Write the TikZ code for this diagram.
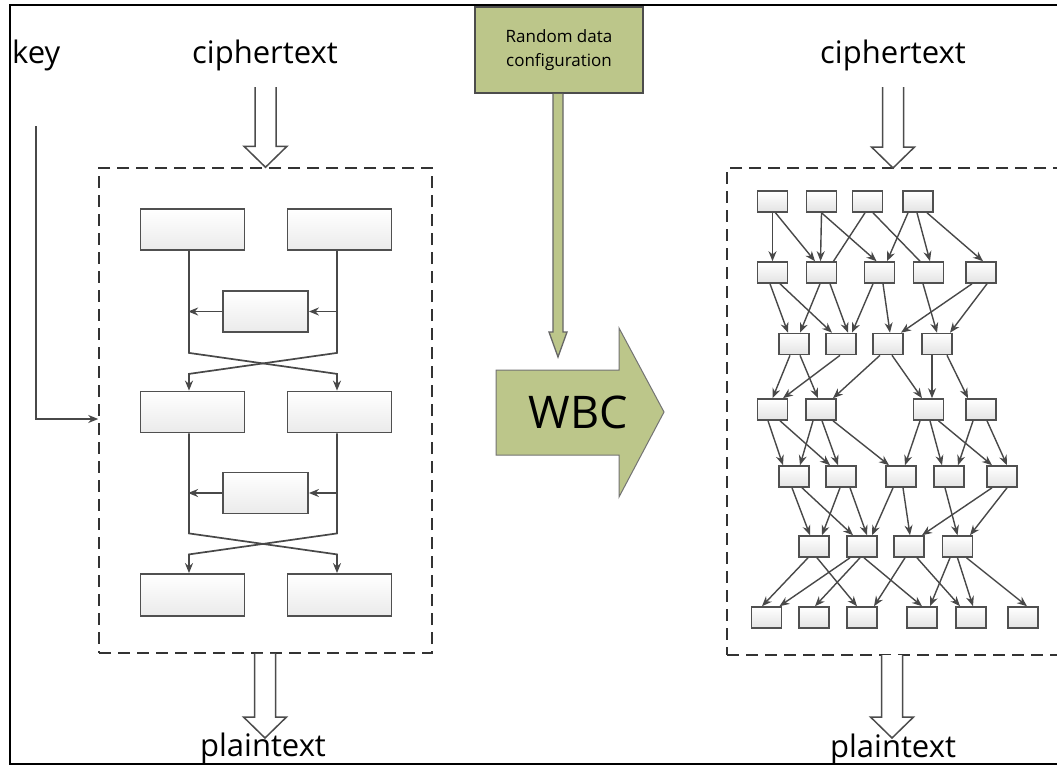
\documentclass[tikz,border=0pt]{standalone}
\usepackage{fontspec}
\setmainfont{Open Sans}
\usetikzlibrary{arrows.meta,calc}
\definecolor{wbcgreen}{RGB}{188,198,138}
\definecolor{linegray}{RGB}{72,72,72}
\definecolor{boxedge}{RGB}{80,80,80}
\newcommand\nedge[4]{\draw[netarr] ([xshift=#2pt]#1.south) -- ([xshift=#4pt]#3.north);}
\newcommand\nline[4]{\draw[netline] ([xshift=#2pt]#1.south) -- ([xshift=#4pt]#3.north);}
\newcommand\hollowarrow[2]{\draw[hollowar] let \p1=(#1), \p2=(#2) in
  (\x2-10.5pt,\y1) -- (\x2-10.5pt,\y2+21pt) -- (\x2-21.5pt,\y2+21pt) -- (\x2,\y2)
  -- (\x2+21.5pt,\y2+21pt) -- (\x2+10.5pt,\y2+21pt) -- (\x2+10.5pt,\y1);}
\begin{document}
\begin{tikzpicture}[x=1pt,y=-1pt,
  netbox/.style={draw=boxedge,line width=1.6pt,top color=white,bottom color=gray!22,minimum width=30pt,minimum height=21pt,inner sep=0pt},
  blockbox/.style={draw=boxedge,line width=1.8pt,top color=white,bottom color=gray!16,minimum width=104pt,minimum height=41pt,inner sep=0pt},
  netarr/.style={draw=linegray,line width=1.4pt,-{Stealth[length=10pt,width=8pt]}},
  netline/.style={draw=linegray,line width=1.4pt},
  flow/.style={draw=linegray,line width=1.7pt},
  flowarr/.style={flow,-{Stealth[length=10pt,width=8pt]}},
  dashbox/.style={draw=black!80,line width=1.5pt,dash pattern=on 12pt off 7pt},
  hollowar/.style={draw=gray!60!black,line width=1.5pt,fill=white,line join=miter},
  txt/.style={font=\fontsize{31}{37}\selectfont,inner sep=0pt}
]
\useasboundingbox (0,0) rectangle (1057,769);
\clip (0,0) rectangle (1057,769);
\fill[white] (0,0) rectangle (1057,769);
% frame
\draw[line width=2pt] (1060,5) -- (10,5) -- (10,764) -- (1060,764);

% texts
\node[txt,anchor=base west] (key) at (12,63) {key};
\node[txt,anchor=base] (ctL) at (265,63) {ciphertext};
\node[txt,anchor=base] (ctR) at (893,63) {ciphertext};
\node[txt,anchor=base] (ptL) at (263,756) {plaintext};
\node[txt,anchor=base] (ptR) at (893,757) {plaintext};

% dashed boxes
\node[dashbox,minimum width=333pt,minimum height=485pt,inner sep=0pt] (L) at (265.5,410.5) {};
\node[dashbox,minimum width=353pt,minimum height=487pt,inner sep=0pt] (R) at (903.5,411.5) {};

% hollow arrows
\coordinate (cLtop) at (265,87);
\coordinate (cRtop) at (893,87);
\coordinate (cRtip) at (893,168);
\coordinate (pLtip) at (265,738);
\coordinate (pRtop) at (892,655);
\coordinate (pRtip) at (892,738);
\hollowarrow{cLtop}{L.north}
\hollowarrow{L.south}{pLtip}
\hollowarrow{cRtop}{cRtip}
\hollowarrow{pRtop}{pRtip}

% key
\coordinate (keytop) at (36,126);
\draw[flowarr,line width=1.5pt] (keytop) |- ([yshift=-8.5pt]L.west);

% green config box
\node[draw=black!70,line width=1.6pt,fill=wbcgreen,minimum width=168pt,minimum height=86pt,align=center,inner sep=0pt,font=\fontsize{17}{24}\selectfont] (GB) at (559,50) {Random data\\configuration};
\coordinate (gtip) at (558,357);
\draw[draw=black!60,line width=1.3pt,fill=wbcgreen,line join=miter] let \p1=(GB.south), \p2=(gtip) in
  (\x2-5pt,\y1) -- (\x2-5pt,\y2+25pt) -- (\x2-9pt,\y2+25pt) -- (\x2,\y2) -- (\x2+9pt,\y2+25pt) -- (\x2+5pt,\y2+25pt) -- (\x2+5pt,\y1);

% WBC arrow
\draw[draw=black!55,line width=1pt,fill=wbcgreen,line join=miter] (496,370) -- (619,370) -- (619,328) -- (664,412) -- (619,497) -- (619,455) -- (496,455) -- cycle;
\node[font=\fontsize{45}{54}\selectfont,inner sep=0pt] (wbc) at (578,412) {WBC};

% left blocks
\node[blockbox] (TL) at (192.5,229.5) {};
\node[blockbox] (TR) at (339.5,229.5) {};
\node[blockbox,minimum width=85pt] (S1) at (265.5,311.5) {};
\node[blockbox] (ML) at (192.5,412) {};
\node[blockbox] (MR) at (339.5,412) {};
\node[blockbox,minimum width=85pt] (S2) at (265.5,493) {};
\node[blockbox,minimum height=42pt] (BL) at (192.5,595) {};
\node[blockbox,minimum height=42pt] (BR) at (339.5,595) {};

\draw[flowarr] ([xshift=-3.5pt]TL.south) -- ++(0,102) -- ++(148,21) -- ([xshift=-2.5pt]MR.north);
\draw[flowarr] ([xshift=-2.5pt]TR.south) -- ++(0,102) -- ++(-148,21) -- ([xshift=-3.5pt]ML.north);
\draw[flowarr] ([xshift=-3.5pt]ML.south) -- ++(0,100) -- ++(148,21) -- ([xshift=-2.5pt]BR.north);
\draw[flowarr] ([xshift=-2.5pt]MR.south) -- ++(0,100) -- ++(-148,21) -- ([xshift=-3.5pt]BL.north);
\draw[flowarr] (S1.west) -- ++(-34,0);
\draw[flowarr] ([xshift=29pt]S1.east) -- (S1.east);
\draw[flowarr] (S2.west) -- ++(-34,0);
\draw[flowarr] ([xshift=29pt]S2.east) -- (S2.east);

% network nodes
\foreach \n/\x in {A1/772.5,A2/821.5,A3/867.5,A4/918} \node[netbox] (\n) at (\x,201.5) {};
\foreach \n/\x in {B1/772.5,B2/821.5,B3/879.5,B4/928.5,B5/981} \node[netbox] (\n) at (\x,272.5) {};
\foreach \n/\x in {C1/794,C2/841,C3/888,C4/937} \node[netbox] (\n) at (\x,344) {};
\foreach \n/\x in {D1/772.5,D2/821,D3/928.5,D4/981} \node[netbox] (\n) at (\x,409.5) {};
\foreach \n/\x in {E1/794,E2/841,E3/901,E4/949,E5/1002} \node[netbox] (\n) at (\x,476.5) {};
\foreach \n/\x in {F1/814,F2/862,F3/909,F4/957.5} \node[netbox] (\n) at (\x,546.5) {};
\foreach \n/\x in {G1/766.5,G2/814,G3/862,G4/922,G5/971,G6/1023} \node[netbox] (\n) at (\x,617.5) {};

% network edges
\nedge{A1}{0}{B1}{0}
\nedge{A1}{3}{B2}{-6.5}
\nedge{A2}{0}{B2}{-1}
\nedge{A2}{0}{B3}{-3}
\nline{A3}{-2.5}{B2}{12}
\nline{A3}{5.5}{B4}{-8.5}
\nedge{A4}{-10}{B3}{7.5}
\nedge{A4}{-1}{B4}{1.5}
\nedge{A4}{9}{B5}{2}

\nedge{B1}{-2.5}{C1}{-6}
\nedge{B1}{7.5}{C2}{-9}
\nedge{B2}{-1.5}{C1}{6}
\nedge{B2}{8.5}{C2}{7}
\nedge{B3}{-6.5}{C2}{11}
\nedge{B3}{3.5}{C3}{2}
\nedge{B4}{-5.5}{C4}{0}
\nedge{B5}{-9}{C3}{13}
\nedge{B5}{6}{C4}{13}

\nedge{C1}{-4}{D1}{0}
\nedge{C1}{6}{D2}{-3}
\nedge{C2}{-1}{D1}{10.5}
\nedge{C3}{-8}{D2}{12}
\nedge{C3}{4}{D3}{-6.5}
\nedge{C4}{-5}{D3}{3.5}
\nedge{C4}{10}{D4}{-13}

\nedge{D1}{-4.5}{E1}{-11}
\nedge{D1}{7.5}{E2}{-11}
\nedge{D2}{-8}{E1}{6}
\nedge{D2}{1}{E2}{-3}
\nedge{D2}{12}{E3}{-12}
\nedge{D3}{-8.5}{E3}{4}
\nedge{D3}{1.5}{E4}{-7}
\nedge{D3}{10}{E5}{-10}
\nedge{D4}{-8}{E4}{9}
\nedge{D4}{6}{E5}{5}

\nedge{E1}{-2}{F1}{-4}
\nedge{E1}{8}{F2}{-9}
\nedge{E2}{-1}{F1}{8}
\nedge{E2}{9}{F2}{5}
\nedge{E3}{-8}{F2}{10}
\nedge{E3}{2}{F3}{1}
\nedge{E4}{-4}{F4}{0}
\nedge{E5}{-10}{F3}{13}
\nedge{E5}{5}{F4}{12.5}

\nedge{F1}{-6}{G1}{-4.5}
\nedge{F1}{3}{G3}{-5}
\nedge{F2}{-12}{G1}{13}
\nedge{F2}{-2}{G2}{1}
\nedge{F2}{2}{G4}{0}
\nedge{F3}{-4}{G3}{12}
\nedge{F3}{8}{G5}{-11}
\nedge{F4}{-7.5}{G4}{8}
\nedge{F4}{0}{G5}{2}
\nedge{F4}{9}{G6}{4}
\end{tikzpicture}
\end{document}
